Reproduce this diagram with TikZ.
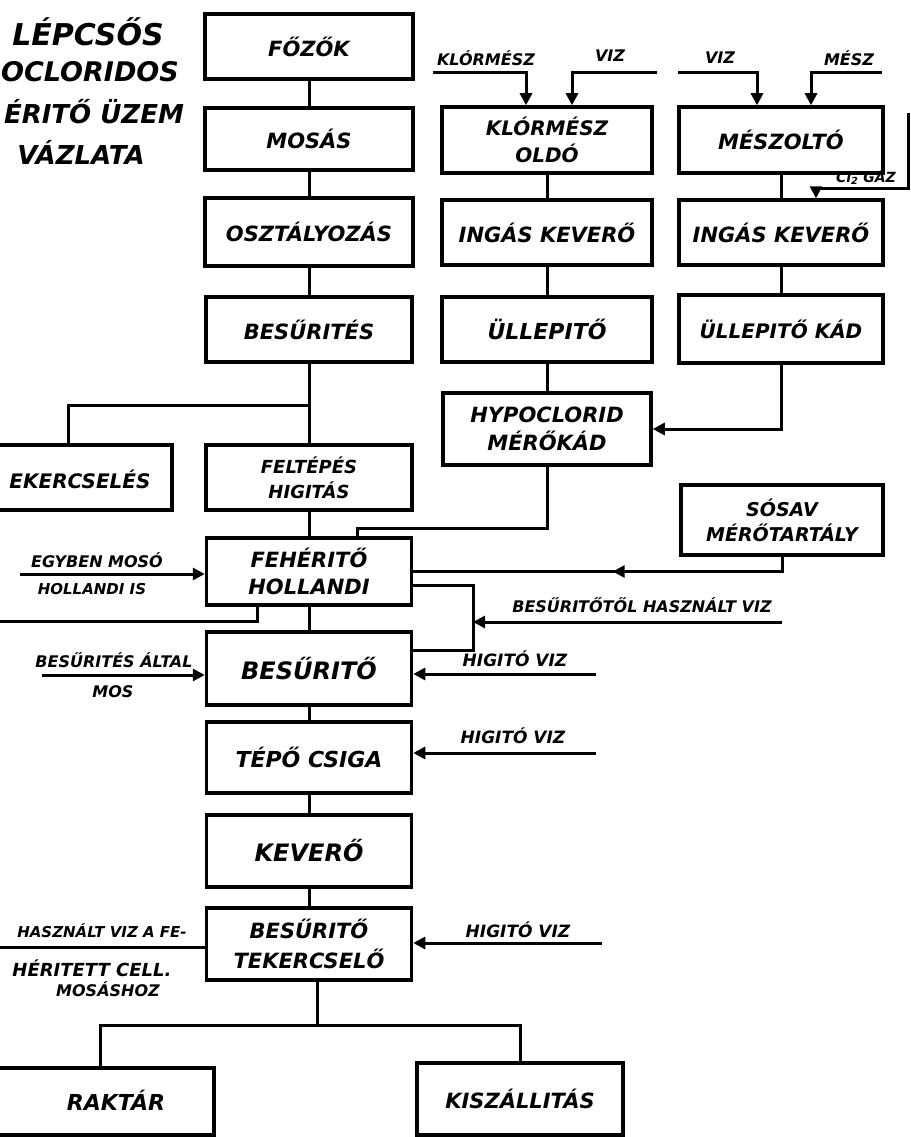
\documentclass[tikz,border=0pt]{standalone}
\usepackage{fontspec}
\setmainfont{DejaVu Sans}
\usetikzlibrary{arrows.meta,decorations.markings}
\newcommand\hf[2]{\fontsize{#1}{#2}\selectfont\bfseries\itshape}
\tikzset{
  box/.style={draw, line width=3.5pt, rectangle, inner sep=0pt, align=center},
  ln/.style={line width=3pt},
  arr/.style={ln, -{Triangle[length=12pt,width=12pt]}},
  midarr/.style={ln, postaction=decorate, decoration={markings, mark=at position #1 with {\arrow{Triangle[length=12pt,width=12pt]}}}},
  lbl/.style={inner sep=0pt, align=center},
}
\begin{document}
\begin{tikzpicture}[x=1pt,y=-1pt]
\useasboundingbox (0,0) rectangle (910,1137);
\fill[white] (0,0) rectangle (910,1137);

% title
\node[lbl, font=\hf{30}{34}] (t1) at (88,32) {LÉPCSŐS};
\node[lbl, font=\hf{27}{30}] (t2) at (90,72) {OCLORIDOS};
\node[lbl, font=\hf{26}{30}] (t3) at (94,112) {ÉRITŐ ÜZEM};
\node[lbl, font=\hf{26}{30}] (t4) at (81,152) {VÁZLATA};

% main column
\node[box, minimum width=208pt, minimum height=65pt, font=\hf{21}{25}] (fozok) at (309,46.5) {FŐZŐK};
\node[box, minimum width=208pt, minimum height=62pt, font=\hf{21}{25}] (mosas) at (309,139) {MOSÁS};
\node[box, minimum width=208pt, minimum height=68pt, font=\hf{21}{25}] (oszt) at (309,232) {OSZTÁLYOZÁS};
\node[box, minimum width=206pt, minimum height=65pt, font=\hf{21}{25}] (besurites) at (309,329.5) {BESŰRITÉS};
\node[box, minimum width=206pt, minimum height=65pt, font=\hf{18}{25}] (felt) at (309,477.5) {FELTÉPÉS\\HIGITÁS};
\node[box, minimum width=208pt, minimum height=65pt] (teker) at (68,477.5) {};
\node[lbl, font=\hf{20}{24}] (tekertxt) at (80,479) {EKERCSELÉS};
\node[box, minimum width=205pt, minimum height=67pt, font=\hf{21}{27}] (feher) at (309,571.5) {FEHÉRITŐ\\HOLLANDI};
\node[box, minimum width=205pt, minimum height=73pt, font=\hf{24}{28}] (besurito) at (309,668.5) {BESŰRITŐ};
\node[box, minimum width=205pt, minimum height=71pt, font=\hf{22}{26}] (tepo) at (309,757.5) {TÉPŐ CSIGA};
\node[box, minimum width=205pt, minimum height=72pt, font=\hf{24}{28}] (kevero) at (309,851) {KEVERŐ};
\node[box, minimum width=205pt, minimum height=72pt, font=\hf{21}{30}] (tekcs) at (309,944) {BESŰRITŐ\\TEKERCSELŐ};
\node[box, minimum width=228pt, minimum height=67pt] (raktar) at (100,1101.5) {};
\node[lbl, font=\hf{22}{26}] (raktartxt) at (116,1100) {RAKTÁR};
\node[box, minimum width=206pt, minimum height=72pt, font=\hf{21}{25}] (kiszall) at (520,1099) {KISZÁLLITÁS};

% second column
\node[box, minimum width=210pt, minimum height=66pt, font=\hf{20}{27}] (klor) at (547,140) {KLÓRMÉSZ\\OLDÓ};
\node[box, minimum width=210pt, minimum height=65pt, font=\hf{21}{25}] (ingas1) at (547,232.5) {INGÁS KEVERŐ};
\node[box, minimum width=210pt, minimum height=65pt, font=\hf{22}{26}] (ulle1) at (547,329.5) {ÜLLEPITŐ};
\node[box, minimum width=208pt, minimum height=72pt, font=\hf{21}{28}] (hypo) at (547,429) {HYPOCLORID\\MÉRŐKÁD};

% third column
\node[box, minimum width=204pt, minimum height=66pt, font=\hf{21}{25}] (meszolto) at (781,140) {MÉSZOLTÓ};
\node[box, minimum width=204pt, minimum height=65pt, font=\hf{21}{25}] (ingas2) at (781,232.5) {INGÁS KEVERŐ};
\node[box, minimum width=204pt, minimum height=68pt, font=\hf{20}{25}] (ulle2) at (781,329) {ÜLLEPITŐ KÁD};
\node[box, minimum width=202pt, minimum height=70pt, font=\hf{19}{25}] (sosav) at (782,520) {SÓSAV\\MÉRŐTARTÁLY};

% main column connectors
\draw[ln] (fozok.south) -- (mosas.north);
\draw[ln] (mosas.south) -- (oszt.north);
\draw[ln] (oszt.south) -- (besurites.north);
\draw[ln] (besurites.south) -- (felt.north);
\coordinate (J) at (309,405);
\draw[ln] (J) -| (teker.north);
\draw[ln] (felt.south) -- (feher.north);
\draw[ln] (feher.south) -- (besurito.north);
\draw[ln] (besurito.south) -- (tepo.north);
\draw[ln] (tepo.south) -- (kevero.north);
\draw[ln] (kevero.south) -- (tekcs.north);

% second / third column connectors
\draw[ln] (klor.south) -- (ingas1.north);
\draw[ln] (ingas1.south) -- (ulle1.north);
\draw[ln] (ulle1.south) -- (hypo.north);
\draw[ln] (meszolto.south) -- (ingas2.north);
\draw[ln] (ingas2.south) -- (ulle2.north);
\draw[arr] (ulle2.south) |- (hypo.east);
\coordinate (hc) at (547,528);
\draw[ln] (hypo.south) -- (hc) -| ([xshift=48pt]feher.north);
\draw[midarr=0.48] (sosav.south) |- (feher.east);

% top inputs
\coordinate (klorin) at (433,73);
\coordinate (vizin1) at (657,73);
\coordinate (vizin2) at (678,73);
\coordinate (meszin) at (882,73);
\draw[arr] (klorin) -| ([xshift=-21pt]klor.north);
\draw[arr] (vizin1) -| ([xshift=25pt]klor.north);
\draw[arr] (vizin2) -| ([xshift=-24pt]meszolto.north);
\draw[arr] (meszin) -| ([xshift=30pt]meszolto.north);
\node[lbl, font=\hf{16}{19}] (lklor) at (486,58) {KLÓRMÉSZ};
\node[lbl, font=\hf{16}{19}] (lviz1) at (610,56) {VIZ};
\node[lbl, font=\hf{16}{19}] (lviz2) at (720,58) {VIZ};
\node[lbl, font=\hf{16}{19}] (lmesz) at (849,58) {MÉSZ};
\coordinate (clin) at (908,113);
\coordinate (clc) at (908,188);
\draw[arr] (clin) -- (clc) -| ([xshift=35pt]ingas2.north);
\node[lbl, font=\hf{14}{16}] (lcl) at (866,177) {Cl\textsubscript{2} GÁZ};

% FEHÉRITŐ surroundings
\coordinate (outL) at (-5,621);
\draw[ln] ([xshift=-52pt]feher.south) |- (outL);
\coordinate (lp1) at (473,585);
\coordinate (lp2) at (473,650);
\draw[ln] (feher.east |- lp1) -- (lp1) -- (lp2) -- (lp2 -| besurito.east);
\coordinate (bt) at (782,622);
\draw[arr] (bt) -- (bt -| lp1);
\node[lbl, font=\hf{16}{19}] (lbt) at (642,605) {BESŰRITŐTŐL HASZNÁLT VIZ};
\coordinate (eg) at (20,574);
\draw[arr] (eg) -- (eg -| feher.west);
\node[lbl, font=\hf{16}{19}] (leg1) at (97,560) {EGYBEN MOSÓ};
\node[lbl, font=\hf{15}{19}] (leg2) at (92,589) {HOLLANDI IS};

% BESŰRITŐ inputs
\coordinate (ba) at (42,675);
\draw[arr] (ba) -- (ba -| besurito.west);
\node[lbl, font=\hf{16}{19}] (lba1) at (114,660) {BESŰRITÉS ÁLTAL};
\node[lbl, font=\hf{16}{19}] (lba2) at (113,692) {MOS};
\coordinate (hv1) at (596,674);
\draw[arr] (hv1) -- (hv1 -| besurito.east);
\node[lbl, font=\hf{17}{20}] (lhv1) at (515,659) {HIGITÓ VIZ};
\coordinate (hv2) at (596,753);
\draw[arr] (hv2) -- (hv2 -| tepo.east);
\node[lbl, font=\hf{17}{20}] (lhv2) at (513,736) {HIGITÓ VIZ};
\coordinate (hv3) at (602,943);
\draw[arr] (hv3) -- (hv3 -| tekcs.east);
\node[lbl, font=\hf{17}{20}] (lhv3) at (518,930) {HIGITÓ VIZ};

% TEKERCSELŐ left output
\coordinate (outL2) at (-5,947);
\draw[ln] (outL2) -- (outL2 -| tekcs.west);
\node[lbl, font=\hf{15}{18}] (lhz1) at (102,931) {HASZNÁLT VIZ A FE-};
\node[lbl, font=\hf{18}{20}] (lhz2) at (92,968) {HÉRITETT CELL.};
\node[lbl, font=\hf{16}{18}] (lhz3) at (108,989) {MOSÁSHOZ};

% bottom split
\coordinate (br) at (317,1025);
\draw[ln] (tekcs.south -| br) -- (br);
\draw[ln] (raktar.north) |- (br) -| (kiszall.north);
\end{tikzpicture}
\end{document}
